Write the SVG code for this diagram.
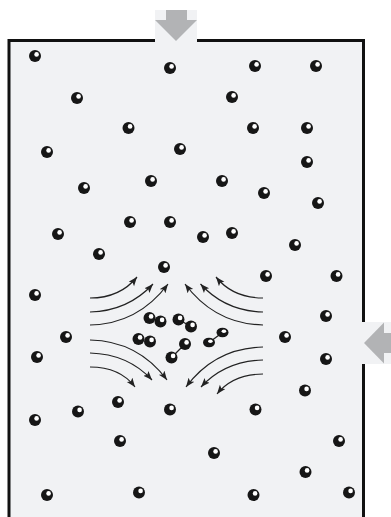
<svg xmlns="http://www.w3.org/2000/svg" xmlns:xlink="http://www.w3.org/1999/xlink" width="391" height="517" viewBox="0 0 391 517">
<style>
.wall{stroke:#111;stroke-width:3;fill:none}
.gray{fill:#b2b3b5}
.pale{fill:#f1f2f4}
.flow{fill:none;stroke:#222;stroke-width:1.2}
.bond{stroke:#222;stroke-width:1.3}
</style>
<defs>
<marker id="ah" markerWidth="10" markerHeight="8" refX="9" refY="3.5" orient="auto" markerUnits="userSpaceOnUse">
<path d="M0,0 L9,3.5 L0,7 L2,3.5 z" fill="#222"/>
</marker>
<g id="b">
<circle r="6" fill="#161616"/>
<circle cx="1.6" cy="-1.6" r="2.3" fill="#fff"/>
</g>
<g id="e">
<ellipse rx="6" ry="4.8" fill="#161616"/>
<ellipse cx="1.4" cy="-1.2" rx="2.3" ry="1.8" fill="#fff"/>
</g>
</defs>
<rect x="0" y="0" width="391" height="517" fill="#fff"/>
<g id="container">
<rect class="pale" x="9" y="40.5" width="354.5" height="477"/>
<path class="wall" d="M9,517 V40.5 H155 M197,40.5 H363.5 V322 M363.5,364 V517"/>
</g>
<g id="arrow-top">
<rect class="pale" x="155" y="10" width="42" height="32"/>
<rect class="gray" x="166" y="10" width="21" height="10"/>
<polygon class="gray" points="155,20 197,20 176,41"/>
</g>
<g id="arrow-right">
<rect class="pale" x="362" y="322" width="29" height="42"/>
<rect class="gray" x="384" y="333" width="7" height="20"/>
<polygon class="gray" points="384,322.5 384,363.5 364,343"/>
</g>
<g id="flows">
<path class="flow" marker-end="url(#ah)" d="M90,298 Q120,298 137,277"/>
<path class="flow" marker-end="url(#ah)" d="M90,312 Q128,311 153,284"/>
<path class="flow" marker-end="url(#ah)" d="M90,325 Q138,324 168,284"/>
<path class="flow" marker-end="url(#ah)" d="M263,298 Q233,298 216,277"/>
<path class="flow" marker-end="url(#ah)" d="M263,312 Q225,311 200.5,284"/>
<path class="flow" marker-end="url(#ah)" d="M263,325 Q215,324 185,284"/>
<path class="flow" marker-end="url(#ah)" d="M90,340 Q138,341 167,380"/>
<path class="flow" marker-end="url(#ah)" d="M90,353 Q128,354 152,380"/>
<path class="flow" marker-end="url(#ah)" d="M90,367 Q120,367 135,387"/>
<path class="flow" marker-end="url(#ah)" d="M263,347 Q215,348 186,387"/>
<path class="flow" marker-end="url(#ah)" d="M263,360 Q225,361 201,387"/>
<path class="flow" marker-end="url(#ah)" d="M263,374 Q233,374 217,394"/>
</g>
<g id="particles">
<use xlink:href="#b" x="35" y="56"/>
<use xlink:href="#b" x="170" y="68"/>
<use xlink:href="#b" x="255" y="66"/>
<use xlink:href="#b" x="316" y="66"/>
<use xlink:href="#b" x="77" y="98"/>
<use xlink:href="#b" x="232" y="97"/>
<use xlink:href="#b" x="128.5" y="128"/>
<use xlink:href="#b" x="253" y="128"/>
<use xlink:href="#b" x="307" y="128"/>
<use xlink:href="#b" x="47" y="152"/>
<use xlink:href="#b" x="180" y="149"/>
<use xlink:href="#b" x="307" y="162"/>
<use xlink:href="#b" x="151" y="181"/>
<use xlink:href="#b" x="222" y="181"/>
<use xlink:href="#b" x="84" y="188"/>
<use xlink:href="#b" x="264" y="193"/>
<use xlink:href="#b" x="318" y="203"/>
<use xlink:href="#b" x="130" y="222"/>
<use xlink:href="#b" x="170" y="222"/>
<use xlink:href="#b" x="58" y="234"/>
<use xlink:href="#b" x="203" y="237"/>
<use xlink:href="#b" x="232" y="233"/>
<use xlink:href="#b" x="295" y="245"/>
<use xlink:href="#b" x="99" y="254"/>
<use xlink:href="#b" x="164" y="267"/>
<use xlink:href="#b" x="266" y="276"/>
<use xlink:href="#b" x="336.5" y="276"/>
<use xlink:href="#b" x="35" y="295"/>
<use xlink:href="#b" x="326" y="316"/>
<use xlink:href="#b" x="66" y="337"/>
<use xlink:href="#b" x="285" y="337"/>
<use xlink:href="#b" x="37" y="357"/>
<use xlink:href="#b" x="326" y="359"/>
<use xlink:href="#b" x="305" y="390.5"/>
<use xlink:href="#b" x="118" y="402"/>
<use xlink:href="#b" x="78" y="411.5"/>
<use xlink:href="#b" x="170" y="409.5"/>
<use xlink:href="#b" x="255.5" y="409.5"/>
<use xlink:href="#b" x="35" y="420"/>
<use xlink:href="#b" x="120" y="441"/>
<use xlink:href="#b" x="339" y="441"/>
<use xlink:href="#b" x="214" y="453"/>
<use xlink:href="#b" x="305.5" y="472"/>
<use xlink:href="#b" x="47" y="495"/>
<use xlink:href="#b" x="139" y="492.5"/>
<use xlink:href="#b" x="253.5" y="495"/>
<use xlink:href="#b" x="349" y="492.5"/>
</g>
<g id="molecules">
<g id="m1">
<use xlink:href="#b" x="149.5" y="318"/>
<use xlink:href="#b" x="160.5" y="321.5"/>
</g>
<g id="m2">
<line class="bond" x1="178.5" y1="319.5" x2="191" y2="326.5"/>
<use xlink:href="#b" x="178.5" y="319.5"/>
<use xlink:href="#b" x="191" y="326.5"/>
</g>
<g id="m3">
<use xlink:href="#b" x="138.5" y="339"/>
<use xlink:href="#b" x="150" y="341.5"/>
</g>
<g id="m4">
<line class="bond" x1="185" y1="344" x2="171.5" y2="357.5"/>
<use xlink:href="#b" x="185" y="344"/>
<use xlink:href="#b" x="171.5" y="357.5"/>
</g>
<g id="m5">
<line class="bond" x1="209" y1="342.5" x2="222.5" y2="332.5"/>
<use xlink:href="#e" x="209" y="342.5"/>
<use xlink:href="#e" x="222.5" y="332.5"/>
</g>
</g>
</svg>
